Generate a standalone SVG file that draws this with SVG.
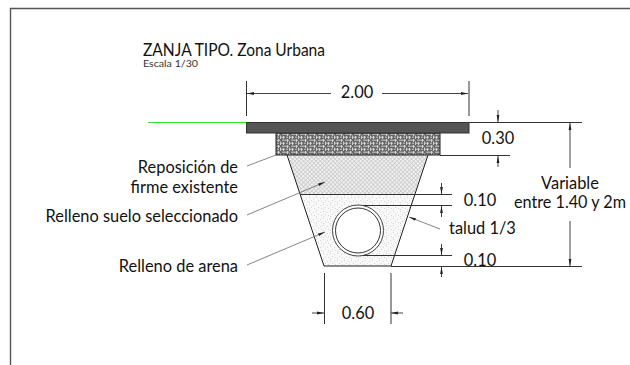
<svg xmlns="http://www.w3.org/2000/svg" width="630" height="365" viewBox="0 0 630 365">
<style>
text{font-family:"Lato","Noto Sans",sans-serif;fill:#111;font-size:16.400px}
.m{text-anchor:middle}.e{text-anchor:end}
.l{stroke:#222;stroke-width:1;fill:none}
.d{stroke:#333;stroke-width:1;fill:none}
.v{stroke:#444;stroke-width:1;fill:none;marker-end:url(#a)}
.g{stroke:#666;stroke-width:.8;fill:none}
.h{stroke:#666;stroke-width:.8;fill:none;marker-end:url(#a)}
</style>
<defs>
<marker id="a" markerWidth="8" markerHeight="6" refX="7" refY="3" orient="auto" markerUnits="userSpaceOnUse"><path d="M0 1.600L7 3L0 4.400Z" fill="#222"/></marker>
<pattern id="brick" width="9" height="6" patternUnits="userSpaceOnUse" x="276" y="133"><rect width="9" height="6" fill="#666"/><path d="M0 1.200H4M6 1.200H9M1 4.200H3M5 4.200H9M2.500 0V3M7.500 3V6M4.500 2.500V6" stroke="#e4e4e4" stroke-width=".8" fill="none"/></pattern>
<pattern id="hatch" width="3" height="3" patternUnits="userSpaceOnUse" patternTransform="rotate(45)"><rect width="3" height="3" fill="#f2f2f2"/><path d="M0 1.500H3M1.500 0V3" stroke="#c4c4c4" stroke-width=".7"/></pattern>
<pattern id="sand" width="7" height="7" patternUnits="userSpaceOnUse"><rect width="7" height="7" fill="#f8f8f8"/><path d="M1 1h1v1h-1zM5 2h1v1h-1zM3 4h1v1h-1zM1 6h1v1h-1zM6 5h1v1h-1z" fill="#d6d6d6"/></pattern>
</defs>
<g id="frame"><path d="M630 8.500H10.500V365" stroke="#555" stroke-width="1.400" fill="none"/></g>
<g id="title"><text x="143" y="56" style="font-size:16.500px" textLength="182" lengthAdjust="spacingAndGlyphs">ZANJA TIPO. Zona Urbana</text><text x="143" y="67" style="font-size:8.500px;fill:#333" textLength="55" lengthAdjust="spacingAndGlyphs">Escala 1/30</text></g>
<g id="ground"><path d="M148 122.500H246M469 122.500H475" stroke="#2ee62e" stroke-width="1.200"/></g>
<g id="trench">
<path d="M287 155H428L415 194H300Z" fill="url(#hatch)"/>
<path d="M300 194H415L391 266H324Z" fill="url(#sand)"/>
<path class="l" d="M287 155L324 266H391L428 155"/>
</g>
<g id="firme"><rect x="276" y="133" width="164" height="22" fill="url(#brick)" stroke="#222"/></g>
<g id="road"><rect x="246.500" y="122.500" width="222.500" height="10.500" fill="#555" stroke="#333"/></g>
<g id="pipe"><circle cx="358" cy="230.500" r="25.500" fill="#fff" stroke="#444"/><circle cx="358" cy="230.500" r="22.500" fill="#fff" stroke="#333"/></g>
<g id="connectors">
<path class="d" d="M469 122.500H582M440 155.500H510M300 194.500H452M363 205.500H452M363 255.500H452M391 266.500H582"/>
<path class="d" d="M246.500 81V116M469 81V116M324.500 273V324M391 273V324"/>
<path class="v" d="M331 93.500H247"/><path class="v" d="M382 93.500H468"/>
<path class="v" d="M498 110V122"/><path class="v" d="M498 167V156"/>
<path class="v" d="M441.500 183V194"/><path class="v" d="M441.500 217V206"/>
<path class="v" d="M441.500 244V255"/><path class="v" d="M441.500 277V267"/>
<path class="v" d="M570 168V123"/><path class="v" d="M570 221V266"/>
<path class="v" d="M312 313H324"/><path class="v" d="M403 313H391"/>
<path class="g" d="M247 166L276 155"/>
<path class="h" d="M247 215L325 182"/><path class="h" d="M247 265L325 232"/><path class="h" d="M440 229L409 217"/>
</g>
<g id="labels">
<text x="357" y="98" class="m">2.00</text>
<text x="498" y="144" class="m">0.30</text>
<text x="570" y="189" class="m">Variable</text>
<text x="570" y="208" class="m" textLength="112" lengthAdjust="spacingAndGlyphs">entre 1.40 y 2m</text>
<text x="480" y="206" class="m">0.10</text>
<text x="480" y="266" class="m">0.10</text>
<text x="449" y="234">talud 1/3</text>
<text x="358" y="319" class="m">0.60</text>
<text x="238" y="173" class="e">Reposición de</text>
<text x="238" y="193" class="e">firme existente</text>
<text x="238" y="222" class="e">Relleno suelo seleccionado</text>
<text x="238" y="272" class="e">Relleno de arena</text>
</g>
</svg>
